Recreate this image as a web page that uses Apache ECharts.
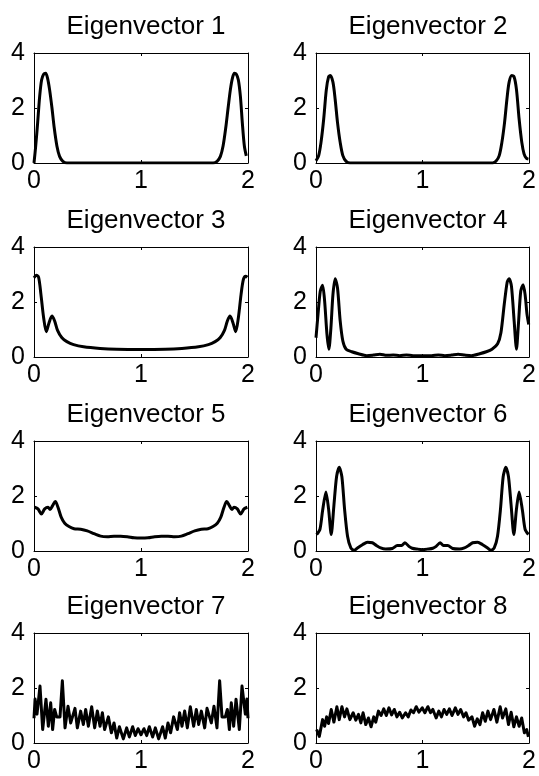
<!DOCTYPE html>
<html>
<head>
<meta charset="utf-8">
<script src="https://cdn.jsdelivr.net/npm/echarts@6/dist/echarts.min.js"></script>
<style>
  html, body { margin: 0; padding: 0; background: #ffffff; }
  #chart { width: 539px; height: 776px; }
</style>
</head>
<body>
<div id="chart"></div>
<script>
// Panel titles and axis ticks
const titles = ['Eigenvector 1', 'Eigenvector 2', 'Eigenvector 3', 'Eigenvector 4',
                'Eigenvector 5', 'Eigenvector 6', 'Eigenvector 7', 'Eigenvector 8'];
const xTicks = [0, 1, 2];
const yTicks = [0, 2, 4];

// Eigenvector samples (x position, magnitude)
const ev1X = [0, 0.016, 0.034, 0.053, 0.071, 0.090, 0.109, 0.127, 0.146, 0.168, 0.189, 0.214, 0.239, 0.270, 0.307,
              1.674, 1.711, 1.742, 1.767, 1.792, 1.814, 1.835, 1.854, 1.873, 1.891, 1.910, 1.929, 1.947, 1.966, 1.984];
const ev1Y = [0, 0.62, 1.46, 2.42, 3.02, 3.23, 3.26, 3.08, 2.66, 2.0, 1.28, 0.62, 0.24, 0.06, 0,
              0, 0.06, 0.24, 0.62, 1.28, 2.0, 2.66, 3.08, 3.26, 3.23, 3.02, 2.42, 1.46, 0.62, 0.26];

const ev2X = [0, 0.025, 0.047, 0.072, 0.097, 0.118, 0.134, 0.159, 0.180, 0.202, 0.227, 0.252, 0.283, 0.320,
              1.658, 1.689, 1.720, 1.745, 1.770, 1.792, 1.813, 1.838, 1.860, 1.882, 1.907, 1.932, 1.953, 1.975, 1.994];
const ev2Y = [0.08, 0.27, 0.75, 1.59, 2.67, 3.13, 3.18, 2.94, 2.31, 1.47, 0.75, 0.27, 0.06, 0,
              0, 0.06, 0.27, 0.75, 1.47, 2.31, 2.94, 3.18, 3.13, 2.67, 1.59, 0.75, 0.33, 0.17, 0.14];

const ev3X = [0, 0.022, 0.043, 0.065, 0.090, 0.115, 0.140, 0.168, 0.193, 0.220, 0.261, 0.307, 0.370, 0.463, 0.618, 0.773,
              1.0, 1.227, 1.382, 1.537, 1.630, 1.693, 1.739, 1.780, 1.807, 1.832, 1.860, 1.885, 1.910, 1.935, 1.957, 1.978, 1.994];
const ev3Y = [2.88, 2.97, 2.9, 2.27, 1.43, 0.92, 1.24, 1.49, 1.31, 0.97, 0.70, 0.56, 0.45, 0.37, 0.31, 0.28,
              0.27, 0.28, 0.31, 0.37, 0.45, 0.56, 0.70, 0.97, 1.31, 1.49, 1.24, 0.92, 1.43, 2.27, 2.82, 2.94, 2.9];

const ev4X = [0, 0.019, 0.040, 0.062, 0.081, 0.103, 0.121, 0.140, 0.159, 0.180, 0.202, 0.227, 0.252, 0.283, 0.336, 0.398,
              0.476, 0.538, 0.600, 0.663, 0.725, 0.787, 0.849, 0.911, 1.0, 1.086, 1.148, 1.210, 1.272, 1.334, 1.397, 1.459,
              1.537, 1.599, 1.652, 1.705, 1.736, 1.767, 1.795, 1.813, 1.835, 1.860, 1.882, 1.900, 1.922, 1.944, 1.963, 1.981, 1.997];
const ev4Y = [0.70, 1.55, 2.39, 2.61, 2.03, 0.82, 0.28, 1.06, 2.27, 2.85, 2.51, 1.31, 0.58, 0.28, 0.19, 0.12,
              0.05, 0.07, 0.10, 0.06, 0.07, 0.05, 0.07, 0.05, 0.05, 0.05, 0.07, 0.05, 0.07, 0.10, 0.07, 0.05,
              0.12, 0.19, 0.28, 0.48, 0.88, 1.91, 2.73, 2.85, 2.57, 1.31, 0.28, 1.18, 2.39, 2.63, 2.27, 1.55, 1.18];

const ev5X = [0.006, 0.037, 0.069, 0.100, 0.131, 0.150, 0.174, 0.199, 0.224, 0.255, 0.287, 0.327, 0.374, 0.436, 0.498,
              0.561, 0.623, 0.685, 0.748, 0.810, 0.872, 0.935, 1.0, 1.065, 1.128, 1.190, 1.252, 1.315, 1.377, 1.439,
              1.502, 1.564, 1.626, 1.673, 1.713, 1.745, 1.776, 1.801, 1.826, 1.850, 1.869, 1.900, 1.931, 1.963, 1.994];
const ev5Y = [1.59, 1.53, 1.35, 1.53, 1.59, 1.51, 1.65, 1.80, 1.59, 1.22, 1.01, 0.89, 0.81, 0.79, 0.73,
              0.63, 0.54, 0.52, 0.54, 0.54, 0.52, 0.48, 0.47, 0.48, 0.52, 0.54, 0.54, 0.52, 0.54, 0.63,
              0.73, 0.79, 0.81, 0.89, 1.01, 1.22, 1.59, 1.80, 1.65, 1.51, 1.59, 1.53, 1.35, 1.53, 1.59];

const ev6X = [0.006, 0.037, 0.062, 0.093, 0.118, 0.143, 0.168, 0.193, 0.218, 0.243, 0.268, 0.296, 0.327, 0.358, 0.389,
              0.436, 0.483, 0.530, 0.567, 0.607, 0.654, 0.717, 0.763, 0.804, 0.835, 0.872, 0.903, 0.950, 1.0,
              1.050, 1.097, 1.128, 1.165, 1.196, 1.237, 1.283, 1.346, 1.393, 1.433, 1.470, 1.517, 1.564, 1.611,
              1.642, 1.673, 1.704, 1.732, 1.757, 1.782, 1.807, 1.832, 1.857, 1.882, 1.907, 1.938, 1.963, 1.994];
const ev6Y = [0.60, 0.79, 1.47, 2.15, 1.53, 0.60, 1.65, 2.70, 3.05, 2.70, 1.53, 0.54, 0.11, 0.02, 0.11,
              0.23, 0.32, 0.30, 0.20, 0.11, 0.07, 0.09, 0.20, 0.20, 0.30, 0.17, 0.10, 0.07, 0.05,
              0.07, 0.10, 0.17, 0.30, 0.20, 0.20, 0.09, 0.07, 0.11, 0.20, 0.30, 0.32, 0.23, 0.11,
              0.02, 0.11, 0.54, 1.53, 2.70, 3.05, 2.70, 1.65, 0.60, 1.53, 2.15, 1.47, 0.79, 0.60];

const ev7X = [0.0, 0.010, 0.028, 0.056, 0.081, 0.112, 0.134, 0.156, 0.174, 0.193, 0.212, 0.243, 0.265, 0.290, 0.318, 0.343,
              0.383, 0.405, 0.436, 0.461, 0.483, 0.508, 0.539, 0.567, 0.592, 0.617, 0.639, 0.660, 0.695, 0.723, 0.748,
              0.773, 0.798, 0.835, 0.866, 0.891, 0.922, 0.947, 0.972, 1.000, 1.028, 1.053, 1.078, 1.109, 1.134, 1.165,
              1.202, 1.227, 1.252, 1.277, 1.305, 1.340, 1.361, 1.383, 1.408, 1.433, 1.461, 1.492, 1.517, 1.539, 1.564,
              1.595, 1.617, 1.657, 1.682, 1.710, 1.735, 1.757, 1.788, 1.807, 1.826, 1.844, 1.866, 1.888, 1.919, 1.944,
              1.975, 1.990, 2.0];
const ev7Y = [0.90, 1.60, 1.05, 2.07, 0.49, 1.59, 0.61, 1.46, 0.49, 1.22, 0.95, 0.95, 2.26, 0.55, 1.34, 0.73,
              1.26, 0.55, 1.16, 0.67, 1.22, 0.61, 1.32, 0.55, 1.16, 0.61, 1.10, 0.49, 0.95, 0.37, 0.73,
              0.18, 0.59, 0.15, 0.55, 0.22, 0.59, 0.27, 0.52, 0.30, 0.52, 0.27, 0.59, 0.22, 0.55, 0.15,
              0.59, 0.18, 0.73, 0.37, 0.95, 0.49, 1.10, 0.61, 1.16, 0.55, 1.32, 0.61, 1.22, 0.67, 1.16,
              0.55, 1.26, 0.73, 1.34, 0.55, 2.26, 0.95, 0.95, 1.22, 0.49, 1.46, 0.61, 1.59, 0.49, 2.07,
              1.05, 1.60, 0.90];

const ev8X = [0.006, 0.031, 0.062, 0.081, 0.100, 0.118, 0.143, 0.168, 0.196, 0.218, 0.243, 0.268, 0.290, 0.318, 0.349,
              0.374, 0.399, 0.421, 0.442, 0.467, 0.492, 0.517, 0.542, 0.561, 0.586, 0.611, 0.636, 0.660, 0.685, 0.710,
              0.735, 0.760, 0.785, 0.810, 0.841, 0.866, 0.891, 0.916, 0.941, 0.966, 0.997, 1.022, 1.050, 1.075, 1.097,
              1.128, 1.153, 1.178, 1.202, 1.227, 1.252, 1.277, 1.308, 1.333, 1.358, 1.386, 1.408, 1.433, 1.464, 1.489,
              1.514, 1.539, 1.564, 1.589, 1.614, 1.639, 1.670, 1.698, 1.729, 1.751, 1.782, 1.807, 1.832, 1.857, 1.882,
              1.907, 1.931, 1.956, 1.978, 1.994];
const ev8Y = [0.49, 0.24, 0.85, 0.61, 0.95, 0.71, 1.22, 0.76, 1.32, 0.85, 1.32, 0.95, 1.24, 0.85, 1.10,
              0.83, 1.04, 0.73, 1.10, 0.67, 0.91, 0.59, 0.95, 0.76, 1.16, 1.00, 1.24, 1.00, 1.28, 1.02,
              1.22, 0.95, 1.12, 0.91, 1.10, 0.95, 1.20, 1.10, 1.32, 1.12, 1.28, 1.10, 1.32, 1.10, 1.22,
              0.91, 1.16, 0.95, 1.22, 1.04, 1.24, 1.00, 1.28, 1.04, 1.22, 0.95, 1.10, 0.83, 0.95, 0.61,
              0.88, 0.67, 1.10, 0.79, 1.16, 0.85, 1.22, 0.76, 1.32, 0.91, 1.24, 0.67, 1.12, 0.59, 0.95,
              0.61, 0.91, 0.37, 0.49, 0.22];

const seriesX = [ev1X, ev2X, ev3X, ev4X, ev5X, ev6X, ev7X, ev8X];
const seriesY = [ev1Y, ev2Y, ev3Y, ev4Y, ev5Y, ev6Y, ev7Y, ev8Y];
const smoothing = [0.3, 0.3, 0.3, 0.25, 0.3, 0.25, 0, 0];

// Layout of the 4 x 2 panel grid (pixels)
const colLeft = [34, 316];
const rowTop = [53, 247, 441, 633];
const boxW = 214, boxH = 110;
const FONT = "'Liberation Sans', Arial, Helvetica, sans-serif";

const grid = [], xAxis = [], yAxis = [], series = [], title = [];

const frameLine = { show: true, onZero: false, lineStyle: { color: '#000', width: 1 } };
const innerTick = { show: true, inside: true, length: 3, lineStyle: { color: '#000', width: 1 } };

for (let i = 0; i < 8; i++) {
  const col = i % 2, row = Math.floor(i / 2);
  const left = colLeft[col], top = rowTop[row];
  grid.push({ left: left, top: top, width: boxW, height: boxH, containLabel: false });

  title.push({
    text: titles[i],
    left: left + boxW / 2,
    top: top - 44,
    textAlign: 'center',
    textStyle: { fontFamily: FONT, fontSize: 26, fontWeight: 'normal', color: '#000' }
  });

  const xBase = { type: 'value', gridIndex: i, min: xTicks[0], max: xTicks[xTicks.length - 1],
                  interval: xTicks[1] - xTicks[0], splitLine: { show: false },
                  axisLine: frameLine, axisTick: innerTick };
  xAxis.push(Object.assign({}, xBase, {
    position: 'bottom',
    axisLabel: { show: true, margin: 6, color: '#000', fontFamily: FONT, fontSize: 25 }
  }));
  xAxis.push(Object.assign({}, xBase, { position: 'top', axisLabel: { show: false } }));

  const yBase = { type: 'value', gridIndex: i, min: yTicks[0], max: yTicks[yTicks.length - 1],
                  interval: yTicks[1] - yTicks[0], splitLine: { show: false },
                  axisLine: frameLine, axisTick: innerTick };
  yAxis.push(Object.assign({}, yBase, {
    position: 'left',
    axisLabel: { show: true, margin: 9, color: '#000', fontFamily: FONT, fontSize: 25 }
  }));
  yAxis.push(Object.assign({}, yBase, { position: 'right', axisLabel: { show: false } }));

  series.push({
    type: 'line',
    xAxisIndex: 2 * i,
    yAxisIndex: 2 * i,
    data: seriesX[i].map((x, k) => [x, seriesY[i][k]]),
    showSymbol: false,
    smooth: smoothing[i],
    clip: true,
    lineStyle: { color: '#000', width: 3, join: 'round' },
    itemStyle: { color: '#000' },
    animation: false
  });
}

const chart = echarts.init(document.getElementById('chart'), null, { renderer: 'canvas' });
chart.setOption({
  backgroundColor: '#ffffff',
  animation: false,
  title: title,
  grid: grid,
  xAxis: xAxis,
  yAxis: yAxis,
  series: series
});
</script>
</body>
</html>
